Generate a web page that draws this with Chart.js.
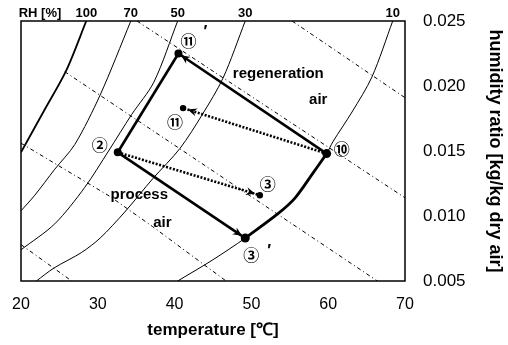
<!DOCTYPE html>
<html>
<head>
<meta charset="utf-8">
<script src="https://cdn.jsdelivr.net/npm/chart.js@4.4.1/dist/chart.umd.min.js"></script>
<style>
  body { margin: 0; background: #fff; }
  #box { width: 508px; height: 345px; }
</style>
</head>
<body>
<div id="box"><canvas id="psy-canvas"></canvas></div>
<script>
// ========== Axes
let tempTicks = [20, 30, 40, 50, 60, 70];
let ratioTicks = [0.005, 0.010, 0.015, 0.020, 0.025];

// ========== Relative humidity curves [temperature, humidity ratio]
let rhLabels = ['100', '70', '50', '30', '10'];
let rh100 = [[20.0, 0.0149], [23.0, 0.0181], [25.9, 0.0212], [28.5, 0.0250]];
let rh70 = [[20.0, 0.0104], [21.8, 0.0116], [24.4, 0.0136], [27.0, 0.0155], [30.3, 0.0193], [34.3, 0.0250]];
let rh50 = [[20.0, 0.0074], [24.4, 0.0094], [28.3, 0.0122], [31.4, 0.0150], [34.4, 0.0178], [37.3, 0.0203], [40.4, 0.0250]];
let rh30 = [[22.0, 0.0050], [24.3, 0.0060], [27.9, 0.0072], [30.3, 0.0083], [33.5, 0.0103], [37.2, 0.0129],
            [40.7, 0.0152], [43.6, 0.0178], [46.3, 0.0206], [49.2, 0.0250]];
let rh10 = [[40.4, 0.0050], [44.9, 0.0066], [49.2, 0.0083], [53.5, 0.0102], [55.7, 0.0114], [57.9, 0.0132],
            [59.8, 0.0148], [60.6, 0.0157], [63.1, 0.0180], [65.7, 0.0207], [68.4, 0.0250]];
let rhCurves = [rh100, rh70, rh50, rh30, rh10];

// ========== Enthalpy lines (dashed)
let enth1 = [[25.7, 0.0211], [66.4, 0.0050]];
let enth2 = [[35.1, 0.0250], [70.0, 0.0114]];
let enth3 = [[55.3, 0.0250], [70.0, 0.0191]];
let enth4 = [[20.0, 0.0156], [31.6, 0.0115], [37.1, 0.0092], [46.7, 0.0050]];
let enth5 = [[20.0, 0.0078], [26.6, 0.0050]];
let enthLines = [enth1, enth2, enth3, enth4, enth5];

// ========== State points: 2, 11', 11, 10, 3, 3'
let stateNames = ['②', '⑪', '⑪', '⑩', '③', '③'];
let statePrime = [false, true, false, false, false, true];
let stateTemp = [32.6, 40.5, 41.1, 59.8, 51.1, 49.2];
let stateRatio = [0.0149, 0.0225, 0.0183, 0.0148, 0.0116, 0.0083];

const S2 = 0, S11p = 1, S11 = 2, S10 = 3, S3 = 4, S3p = 5;
const pt = i => ({ x: stateTemp[i], y: stateRatio[i] });
const xy = arr => arr.map(p => ({ x: p[0], y: p[1] }));
let heatPath = rh10.filter(p => p[0] >= stateTemp[S3p] && p[0] <= stateTemp[S10]);

const fontFam = '"Liberation Sans", Arial, Helvetica, sans-serif';

// ========== Datasets
let datasets = [
    { data: stateTemp.map((t, i) => pt(i)), showLine: false,
      pointRadius: [4, 4, 3.2, 4.5, 3.2, 4.5], pointBackgroundColor: '#000', pointBorderWidth: 0 },
    { data: [pt(S2), pt(S3p)], borderWidth: 2.6, arrow: 4 },
    { data: xy(heatPath), borderWidth: 2.8, tension: 0.3 },
    { data: [pt(S10), pt(S11p)], borderWidth: 2.6, arrow: 3 },
    { data: [pt(S11p), pt(S2)], borderWidth: 2.6 },
    { data: [pt(S2), pt(S3)], borderWidth: 2.6, borderDash: [2, 1.6], arrow: 5 },
    { data: [pt(S10), pt(S11)], borderWidth: 2.6, borderDash: [2, 1.6], arrow: 5 },
];
rhCurves.forEach((c, i) => datasets.push({
    data: xy(c), borderWidth: i === 0 ? 1.8 : 1, tension: 0.3
}));
enthLines.forEach(l => datasets.push({ data: xy(l), borderWidth: 1, borderDash: [4, 3, 1, 3] }));
datasets.forEach(d => { d.borderColor = '#000'; if (d.showLine !== false) d.pointRadius = 0; d.fill = false; });

// ========== Frame, labels, arrowheads
const psyNotes = {
    id: 'psyNotes',
    afterDatasetsDraw(chart) {
        const { ctx, chartArea: a, scales: { x, y } } = chart;
        // read back one pixel: flushes the queued curves so none get dropped
        ctx.getImageData(0, 0, 1, 1);
        ctx.save();
        ctx.fillStyle = '#000';
        ctx.strokeStyle = '#000';

        // arrowheads
        chart.data.datasets.forEach((ds, i) => {
            if (!ds.arrow) return;
            const pts = chart.getDatasetMeta(i).data;
            const p1 = pts[pts.length - 2], p2 = pts[pts.length - 1];
            const ang = Math.atan2(p2.y - p1.y, p2.x - p1.x);
            const tx = p2.x - Math.cos(ang) * ds.arrow, ty = p2.y - Math.sin(ang) * ds.arrow;
            ctx.beginPath();
            ctx.moveTo(tx, ty);
            ctx.lineTo(tx - 10 * Math.cos(ang - 0.42), ty - 10 * Math.sin(ang - 0.42));
            ctx.lineTo(tx - 6 * Math.cos(ang), ty - 6 * Math.sin(ang));
            ctx.lineTo(tx - 10 * Math.cos(ang + 0.42), ty - 10 * Math.sin(ang + 0.42));
            ctx.closePath();
            ctx.fill();
        });

        // frame
        ctx.lineWidth = 1.5;
        ctx.strokeRect(a.left, a.top, a.right - a.left, a.bottom - a.top);

        ctx.textAlign = 'center';
        ctx.textBaseline = 'middle';

        // RH labels along the top
        ctx.font = 'bold 13px ' + fontFam;
        ctx.fillText('RH [%]', 40, 13);
        rhCurves.forEach((c, i) => {
            const top = c[c.length - 1];
            ctx.fillText(rhLabels[i], x.getPixelForValue(top[0]), 13);
        });

        // state labels
        const nameOff = [[-18, -7], [10, -13], [-8, 14], [15, -5], [8, -11], [6, 17]];
        const primeOff = { 1: [27, -21], 5: [24, 13] };
        stateNames.forEach((n, i) => {
            const px = x.getPixelForValue(stateTemp[i]), py = y.getPixelForValue(stateRatio[i]);
            ctx.font = 'bold 16px "Noto Sans CJK JP", "DejaVu Sans", sans-serif';
            ctx.fillText(n, px + nameOff[i][0], py + nameOff[i][1]);
            if (statePrime[i]) {
                ctx.font = 'bold 16px ' + fontFam;
                ctx.fillText('′', px + primeOff[i][0], py + primeOff[i][1]);
            }
        });

        // air stream notes
        ctx.font = 'bold 15px ' + fontFam;
        [['regeneration', 53.5, 0.0209], ['air', 58.7, 0.0189],
         ['process', 35.4, 0.0116], ['air', 38.4, 0.0095]].forEach(t => {
            ctx.fillText(t[0], x.getPixelForValue(t[1]), y.getPixelForValue(t[2]));
        });
        ctx.restore();
    }
};

var psyCanvas = document.getElementById('psy-canvas');
psyCanvas.getContext('2d', { willReadFrequently: true });
var psyChart = new Chart(psyCanvas, {
    type: 'line',
    data: { datasets: datasets },
    plugins: [psyNotes],
    options: {
        responsive: true,
        maintainAspectRatio: false,
        animation: false,
        layout: { padding: { left: 21, top: 21, right: 0, bottom: 0 } },
        plugins: { legend: { display: false }, tooltip: { enabled: false } },
        scales: {
            x: {
                type: 'linear', min: 20, max: 70,
                afterBuildTicks: s => { s.ticks = tempTicks.map(v => ({ value: v })); },
                afterFit: s => { s.height = 64; s.paddingLeft = 0; s.paddingRight = 0; },
                grid: { display: false, drawTicks: false },
                border: { display: false },
                ticks: { color: '#000', padding: 14, maxRotation: 0, font: { size: 16, family: fontFam } },
                title: { display: true, text: 'temperature [℃]', color: '#000',
                         padding: { top: 0, bottom: 4 }, font: { size: 17, weight: 'bold', family: fontFam } }
            },
            y: {
                type: 'linear', position: 'right', min: 0.005, max: 0.025,
                afterBuildTicks: s => { s.ticks = ratioTicks.map(v => ({ value: v })); },
                afterFit: s => { s.width = 103; s.paddingTop = 0; s.paddingBottom = 0; },
                grid: { display: false, drawTicks: false },
                border: { display: false },
                ticks: { color: '#000', padding: 18, font: { size: 17, family: fontFam },
                         callback: v => v.toFixed(3) },
                title: { display: true, text: 'humidity ratio [kg/kg dry air]', color: '#000',
                         padding: { top: 2, bottom: 0 }, font: { size: 18, weight: 'bold', family: fontFam } }
            }
        }
    }
});
</script>
</body>
</html>
